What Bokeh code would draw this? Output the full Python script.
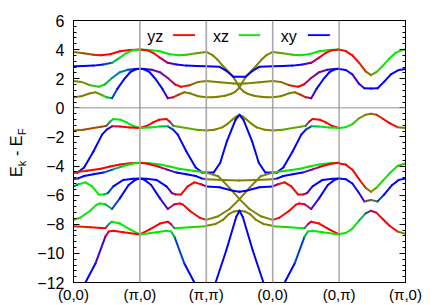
import numpy as np
from bokeh.plotting import figure
from bokeh.layouts import row
from bokeh.models import FixedTicker, LinearAxis, Range1d, Label, BoxAnnotation, Span, ColumnDataSource
from bokeh.embed import file_html
from bokeh.resources import INLINE

# ---- k-path ----
kpath_ticks = [0, 1, 2, 3, 4, 5]
kpath_labels = ["(0,0)", "(\u03c0,0)", "(\u03c0,\u03c0)", "(0,0)", "(0,\u03c0)", "(\u03c0,0)"]
y_ticks = [-12, -10, -8, -6, -4, -2, 0, 2, 4, 6]

# orbital character codes -> colour (yz=red, xz=green, xy=blue)
RGB = {"r": (255, 0, 0), "g": (0, 235, 0), "b": (0, 0, 255), "o": (128, 128, 0),
       "n": (170, 75, 0), "v": (95, 170, 0), "t": (0, 130, 150), "p": (128, 0, 170)}
SWAP = str.maketrans("rgnvtp", "grvnpt")

# ---- Gamma -> X bands (t along segment, energy, character per point) ----
gx_A_t = [0, .15, .3, .41, .55, .7, .85, 1]
gx_A_E = [3.84, 3.75, 3.65, 3.61, 3.68, 3.89, 3.97, 4.0]
gx_A_c = "onnrrrrr"
gx_B_t = [0, .15, .3, .45, .58, .7, .8, .9, 1]
gx_B_E = [2.86, 2.87, 2.9, 2.98, 3.09, 3.45, 3.78, 3.96, 4.0]
gx_B_c = "bbbbtgggg"
gx_C_t = [0, .12, .25, .38, .47, .58, .7, .82, .92, 1]
gx_C_E = [1.84, 1.78, 1.55, 1.45, 1.6, 2.05, 2.45, 2.62, 2.67, 2.68]
gx_C_c = "oovggtttbb"
gx_D_t = [0, .12, .25, .33, .42, .5, .58, .66, .76, .86, .94, 1]
gx_D_E = [0.73, 0.8, 1.0, 1.07, 0.9, 0.72, 0.66, 1.3, 1.95, 2.48, 2.65, 2.68]
gx_D_c = "oooovgtbbbbb"
gx_E_t = [0, .15, .3, .42, .5, .55, .6, .71, .8, .9, 1]
gx_E_E = [-1.55, -1.5, -1.38, -1.3, -1.23, -0.95, -0.77, -0.82, -1.0, -1.25, -1.39]
gx_E_c = "onnnntggggg"
gx_F_t = [0, .06, .16, .3, .43, .5, .58, .7, .85, 1]
gx_F_E = [-4.45, -4.45, -4.1, -3.0, -1.84, -1.5, -1.27, -1.28, -1.35, -1.39]
gx_F_c = "bbbbbbprrr"
gx_G_t = [0, .2, .41, .55, .7, .85, 1]
gx_G_E = [-4.45, -4.33, -4.18, -4.03, -3.89, -3.8, -3.77]
gx_G_c = "nrrrrrr"
gx_H_t = [0, .07, .16, .3, .45, .6, .75, .9, 1]
gx_H_E = [-4.9, -4.85, -4.68, -4.57, -4.45, -4.23, -4.0, -3.83, -3.77]
gx_H_c = "obbbbtggg"
gx_I_t = [0, .08, .18, .28, .38, .46, .52, .6, .75, .9, 1]
gx_I_E = [-5.4, -5.25, -5.12, -5.4, -5.95, -5.95, -5.85, -5.4, -4.95, -4.87, -4.86]
gx_I_c = "bgggggtbbbb"
gx_K_t = [0, .1, .25, .35, .4, .48, .58, .7, .83, .93, 1]
gx_K_E = [-7.7, -7.55, -7.07, -6.65, -6.57, -6.62, -6.95, -6.2, -5.3, -4.95, -4.86]
gx_K_c = "vgggggtbbbb"
gx_M_t = [0, .25, .48, .53, .58, .7, .85, 1]
gx_M_E = [-8.13, -8.2, -8.27, -8.0, -7.82, -7.95, -8.35, -8.7]
gx_M_c = "nrrtgggg"
gx_L_t = [.1, .18, .33, .48, .53, .6, .75, 1]
gx_L_E = [-13.0, -12.0, -10.7, -8.85, -8.5, -8.45, -8.55, -8.7]
gx_L_c = "bbbprrrr"

gx_bands = [(gx_A_t, gx_A_E, gx_A_c), (gx_B_t, gx_B_E, gx_B_c), (gx_C_t, gx_C_E, gx_C_c),
            (gx_D_t, gx_D_E, gx_D_c), (gx_E_t, gx_E_E, gx_E_c), (gx_F_t, gx_F_E, gx_F_c),
            (gx_G_t, gx_G_E, gx_G_c), (gx_H_t, gx_H_E, gx_H_c), (gx_I_t, gx_I_E, gx_I_c),
            (gx_K_t, gx_K_E, gx_K_c), (gx_M_t, gx_M_E, gx_M_c), (gx_L_t, gx_L_E, gx_L_c)]

# ---- M -> Gamma bands (t from M) ----
mg_o1_t = [0, .1, .17, .24, .33, .41, .46, .5, .56, .63, .72, .82, .91, 1]
mg_o1_E = [3.84, 3.6, 3.3, 2.93, 2.5, 2.1, 1.72, 1.4, 1.12, 0.95, 0.83, 0.76, 0.73, 0.73]
mg_o2_t = [0, .09, .18, .28, .37, .44, .5, .54, .59, .67, .76, .83, .9, 1]
mg_o2_E = [0.73, 0.73, 0.76, 0.83, 0.95, 1.12, 1.4, 1.72, 2.1, 2.5, 2.93, 3.3, 3.6, 3.84]
mg_o3_t = [0, .2, .41, .5, .59, .8, 1]
mg_o3_E = [1.84, 1.75, 1.68, 1.66, 1.68, 1.75, 1.84]
mg_bd_t = [0, .2, .3, .41, .59, .7, .8, 1]
mg_bd_E = [2.86, 2.82, 2.55, 2.14, 2.14, 2.55, 2.82, 2.86]
mg_bell_t = [0, .12, .24, .32, .39, .45, .5, .55, .61, .68, .76, .88, 1]
mg_bell_E = [-1.55, -1.5, -1.34, -1.1, -0.82, -0.6, -0.48, -0.6, -0.82, -1.1, -1.34, -1.5, -1.55]
mg_tent_t = [0, .11, .21, .31, .44, .5, .56, .69, .79, .89, 1]
mg_tent_E = [-4.45, -4.45, -3.77, -2.3, -0.82, -0.48, -0.82, -2.3, -3.77, -4.45, -4.45]
mg_oA_t = [0, .18, .35, .5, .65, .82, 1]
mg_oA_E = [-4.45, -4.7, -5.5, -6.27, -6.95, -7.45, -7.7]
mg_oB_t = [0, .18, .35, .5, .65, .82, 1]
mg_oB_E = [-7.7, -7.45, -6.95, -6.27, -5.5, -4.7, -4.45]
mg_oC_t = [0, .25, .5, .75, 1]
mg_oC_E = [-4.9, -4.95, -5.0, -4.95, -4.9]
mg_bV_t = [0, .2, .4, .5, .6, .8, 1]
mg_bV_E = [-5.4, -5.45, -5.7, -5.77, -5.7, -5.45, -5.4]
mg_ob_t = [0, .14, .25, .34, .42, .5, .58, .66, .75, .86, 1]
mg_ob_E = [-8.1, -7.98, -7.7, -7.3, -7.12, -7.07, -7.12, -7.3, -7.7, -7.98, -8.1]
mg_bl_t = [.08, .14, .3, .45, .5, .55, .7, .86, .92]
mg_bl_E = [-12.9, -12.0, -9.8, -7.5, -7.07, -7.5, -9.8, -12.0, -12.9]

mg_bands = [(mg_o1_t, mg_o1_E, "o" * 14), (mg_o2_t, mg_o2_E, "o" * 14), (mg_o3_t, mg_o3_E, "o" * 7),
            (mg_bd_t, mg_bd_E, "b" * 8), (mg_bell_t, mg_bell_E, "o" * 13),
            (mg_tent_t, mg_tent_E, "b" * 11), (mg_oA_t, mg_oA_E, "o" * 7), (mg_oB_t, mg_oB_E, "o" * 7),
            (mg_oC_t, mg_oC_E, "o" * 5), (mg_bV_t, mg_bV_E, "b" * 7), (mg_ob_t, mg_ob_E, "o" * 11),
            (mg_bl_t, mg_bl_E, "b" * 9)]

# ---- Y -> X bands (t from Y) ----
yx_t = [0, .1, .2, .3, .4, .48, .56, .66, .76, .88, 1]
yx_a_t = [0, .1, .2, .3, .4, .48, .56, .65, .75, .85, .95, 1]
yx_a_E = [4.0, 3.9, 3.6, 3.1, 2.5, 2.25, 2.45, 2.85, 3.35, 3.78, 3.97, 4.0]
yx_a_c = "rrrrnovggggo"
yx_b_t = [0, .1, .2, .3, .38, .48, .58, .68, .78, .9, 1]
yx_b_E = [2.66, 2.6, 2.3, 1.65, 1.34, 1.32, 1.34, 1.8, 2.3, 2.6, 2.66]
yx_b_c = "bbbpbbbbbbb"
yx_c_E = [-1.39, -1.33, -1.12, -0.72, -0.47, -0.41, -0.47, -0.75, -1.05, -1.33, -1.39]
yx_c_c = "gggvoonrrrg"
yx_d_E = [-3.82, -3.9, -4.25, -4.9, -5.5, -5.77, -5.5, -5.0, -4.5, -4.0, -3.82]
yx_d_c = "rrrrnovgggo"
yx_e_t = [0, .1, .2, .3, .38, .48, .58, .68, .8, .9, 1]
yx_e_E = [-4.86, -4.9, -5.2, -5.85, -6.43, -6.33, -6.43, -5.95, -5.3, -4.95, -4.86]
yx_e_c = "bbbbpotbbbb"
yx_f_E = [-8.66, -8.6, -8.3, -7.75, -7.25, -7.07, -7.2, -7.65, -8.1, -8.5, -8.66]
yx_f_c = "ggggtprrrrg"

yx_bands = [(yx_a_t, yx_a_E, yx_a_c), (yx_b_t, yx_b_E, yx_b_c), (yx_t, yx_c_E, yx_c_c),
            (yx_t, yx_d_E, yx_d_c), (yx_e_t, yx_e_E, yx_e_c), (yx_t, yx_f_E, yx_f_c)]

# ---- build coloured segments ----
x0, y0, x1, y1, cols = [], [], [], [], []


def mix(a, b):
    ca, cb = RGB[a], RGB[b]
    return "#%02x%02x%02x" % tuple(int(round((u + v) / 2)) for u, v in zip(ca, cb))


def add_band(start, direction, t, E, c, swap=False):
    cc = c.translate(SWAP) if swap else c
    ks = [start + direction * ti for ti in t]
    for i in range(len(t) - 1):
        x0.append(ks[i]); y0.append(E[i]); x1.append(ks[i + 1]); y1.append(E[i + 1])
        cols.append(mix(cc[i], cc[i + 1]))


for t, E, c in gx_bands:
    add_band(0, 1, t, E, c)            # Gamma -> X
    add_band(2, -1, t, E, c, True)     # X -> M (mirror, yz<->xz)
    add_band(3, 1, t, E, c, True)      # Gamma -> Y (yz<->xz)
for t, E, c in mg_bands:
    add_band(2, 1, t, E, c)            # M -> Gamma
for t, E, c in yx_bands:
    add_band(4, 1, t, E, c)            # Y -> X

FONT = "Liberation Sans"
# geometry (pixels)
YLAB_W, MAIN_W, H = 30, 406, 305
B_LEFT, B_RIGHT, B_TOP, B_BOT = 43, 31, 20, 21

p = figure(width=MAIN_W, height=H, x_range=Range1d(0, 5), y_range=Range1d(-12, 6),
           output_backend="svg", toolbar_location=None,
           min_border_left=B_LEFT, min_border_right=B_RIGHT, min_border_top=B_TOP, min_border_bottom=B_BOT)
p.grid.visible = False
p.outline_line_color = "black"
p.outline_line_width = 1

for k in kpath_ticks[1:-1]:
    p.add_layout(Span(location=k, dimension="height", line_color="#a8a8a8" if k < 4 else "#808080",
                      line_width=1.6 if k < 4 else 1.0))
p.add_layout(Span(location=0, dimension="width", line_color="#909090", line_width=1))

src = ColumnDataSource(dict(x0=x0, y0=y0, x1=x1, y1=y1, c=cols))
p.segment(x0="x0", y0="y0", x1="x1", y1="y1", color="c", line_width=2, line_cap="round", source=src)

minor = [round(v, 2) for v in np.arange(-12, 6.001, 0.4)]
p.yaxis.ticker = FixedTicker(ticks=y_ticks, minor_ticks=minor)
p.yaxis.major_tick_in = 6
p.yaxis.major_tick_out = 0
p.yaxis.minor_tick_in = 3
p.yaxis.minor_tick_out = 0
p.yaxis.major_label_text_font = FONT
p.yaxis.major_label_text_font_size = "16px"
p.yaxis.major_label_text_color = "black"
p.yaxis.major_label_standoff = 9
p.yaxis.axis_line_color = "black"
p.yaxis.axis_label = None

p.xaxis.ticker = FixedTicker(ticks=kpath_ticks)
p.xaxis.major_label_overrides = {k: l for k, l in zip(kpath_ticks, kpath_labels)}
p.xaxis.major_tick_in = 0
p.xaxis.major_tick_out = 0
p.xaxis.minor_tick_line_color = None
p.xaxis.major_label_text_font = FONT
p.xaxis.major_label_text_font_size = "15px"
p.xaxis.major_label_text_color = "black"
p.xaxis.major_label_standoff = 3
p.xaxis.axis_line_color = "black"
p.xaxis.axis_label = None

ry = LinearAxis(ticker=FixedTicker(ticks=y_ticks, minor_ticks=minor))
ry.major_tick_in = 6
ry.major_tick_out = 0
ry.minor_tick_in = 3
ry.minor_tick_out = 0
ry.major_label_text_font_size = "0px"
ry.major_label_text_color = None
ry.major_label_standoff = 0
p.add_layout(ry, "right")

# legend (gnuplot style: text, then line sample)
leg_y = 5.0
legend_entries = [("yz", "#ff0000", 1.11, 1.50, 1.83), ("xz", "#00ee00", 2.10, 2.49, 2.81),
                  ("xy", "#0000ff", 3.12, 3.53, 3.86)]
for name, col, tx, l0, l1 in legend_entries:
    p.add_layout(Label(x=tx, y=leg_y, text=name, text_font=FONT, text_font_size="16px",
                       text_baseline="middle", text_align="left", text_color="black", y_offset=-1))
    p.add_layout(BoxAnnotation(left=l0, right=l1, bottom=leg_y - 0.06, top=leg_y + 0.06,
                               fill_color=col, fill_alpha=1, line_color=col, line_width=0.5))

# ---- y-axis title panel: E_k - E_F ----
yl = figure(width=YLAB_W, height=H, x_range=Range1d(0, YLAB_W), y_range=Range1d(-12, 6),
            output_backend="svg", toolbar_location=None, x_axis_type=None, y_axis_type=None,
            min_border_left=0, min_border_right=0, min_border_top=B_TOP, min_border_bottom=B_BOT)
yl.grid.visible = False
yl.outline_line_color = None
ylab_x, ylab_y = 16, -4.75
for txt, off, size, sub in [("E", 0, "16px", False), ("k", 10.7, "11px", True),
                            ("- E", 21.0, "16px", False), ("F", 41.6, "11px", True)]:
    yl.add_layout(Label(x=ylab_x, y=ylab_y, text=txt, angle=np.pi / 2, text_font=FONT,
                        text_font_size=size, text_align="left", text_baseline="middle",
                        x_offset=5 if sub else 0, y_offset=off, text_color="black"))

layout = row(yl, p, spacing=0)
open("out.html", "w").write(file_html(layout, INLINE))
